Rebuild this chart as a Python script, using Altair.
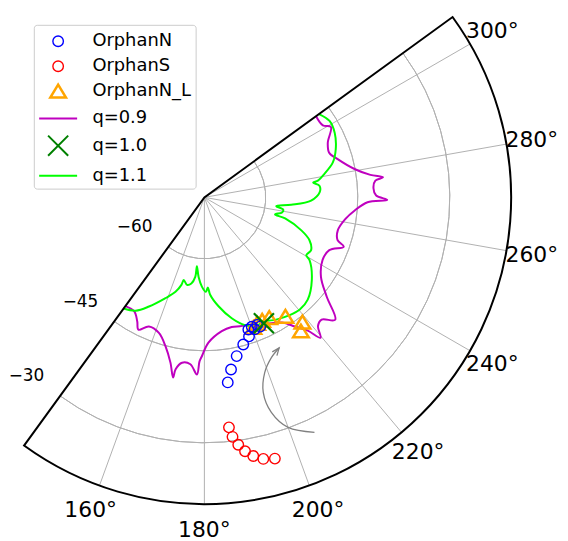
import altair as alt
import pandas as pd

# ---------------- data (RA deg, Dec deg) ----------------
SERIES = ["OrphanN", "OrphanS", "OrphanN_L", "q=0.9", "q=1.0", "q=1.1"]
COLORS = ["#0000ff", "#ff0000", "#ffa500", "#bf00bf", "#008000", "#00ff00"]

orphanN_ra = [187.2, 188.8, 191.5, 194.8, 197.8, 198.4, 200.1, 200.9, 202.5, 203.35]
orphanN_dec = [-39.6, -41.6, -43.6, -45.2, -46.2, -47.3, -47.55, -47.0, -47.5, -47.05]

orphanS_ra = [186.1, 186.7, 187.8, 189.1, 190.7, 192.7, 195.1]
orphanS_dec = [-32.3, -30.7, -29.3, -28.1, -27.1, -26.3, -25.9]

orphanNL_ra = [200.6, 202.7, 205.1, 208.3, 214.2, 218.1, 215.8]
orphanNL_dec = [-47.3, -47.7, -47.8, -47.7, -46.5, -44.1, -43.1]

q10_ra = [205.3]
q10_dec = [-47.3]

q09_ra = [144.0, 148.4, 151.6, 153.5, 156.75, 161.45, 165.4, 168.4, 170.15, 170.5,
          172.3, 175.2, 177.6, 178.3, 179.1, 181.6, 187.4, 191.9, 195.45, 197.6,
          203.0, 211.8, 215.0, 217.8, 219.6, 221.4, 223.8, 226.9, 230.9, 235.7,
          242.1, 247.1, 250.5, 252.2, 256.1, 261.1, 265.0, 268.3, 269.2, 270.6,
          273.1, 275.6, 276.4, 277.7, 280.7, 286.0, 289.7, 293.9, 299.1, 301.3, 306.0]
q09_dec = [-48.1, -48.2, -47.0, -45.9, -47.1, -46.7, -44.9, -42.5, -40.2, -41.6,
           -42.8, -42.7, -41.1, -43.25, -44.1, -46.3, -48.0, -48.4, -48.2, -48.1,
           -47.4, -46.0, -44.3, -42.5, -40.3, -42.0, -42.4, -40.8, -44.3, -47.0,
           -48.2, -47.9, -45.9, -47.2, -47.6, -46.8, -45.4, -43.4, -40.2, -42.0,
           -42.4, -42.0, -40.7, -42.7, -45.1, -47.4, -48.4, -48.0, -46.4, -47.4, -47.5]

q11_ra = [144.0, 148.8, 153.1, 158.9, 163.0, 165.3, 166.0, 168.8, 171.4, 173.5,
          173.8, 175.85, 178.4, 180.9, 182.2, 183.4, 187.4, 192.75, 197.6, 202.0,
          206.1, 210.4, 215.9, 220.4, 225.3, 232.4, 239.2, 240.4, 243.7, 247.8,
          251.2, 255.4, 256.4, 259.0, 261.2, 263.0, 265.1, 268.3, 272.5, 275.8,
          277.7, 278.4, 281.0, 285.2, 290.1, 296.3, 301.4, 306.0]
q11_dec = [-47.6, -48.4, -50.05, -52.4, -53.9, -55.25, -56.1, -55.45, -55.8, -57.0,
           -58.7, -57.0, -55.45, -54.6, -55.3, -54.1, -52.1, -49.8, -48.15, -47.45,
           -47.5, -46.9, -46.3, -46.0, -46.3, -47.9, -50.05, -50.9, -50.6, -51.5,
           -53.3, -56.4, -58.15, -57.1, -57.0, -58.2, -55.8, -52.6, -51.2, -51.15,
           -52.1, -51.3, -50.1, -48.3, -47.2, -46.3, -46.1, -46.9]

arrow_ra = [205.1, 200.0, 197.3, 196.8, 199.0, 202.7, 206.4]
arrow_dec = [-27.7, -30.1, -33.3, -36.8, -39.8, -41.7, -42.6]

ra_ticks = [160, 180, 200, 220, 240, 260, 280, 300]
dec_ticks = [-60, -45, -30]

RA_MIN, RA_MAX = 144, 306          # wedge limits
DEC_CENTER, DEC_EDGE = -70, -20    # radial limits (center, outer edge)
LABEL_DEC = -15.8                  # where the RA tick labels sit

# ---------------- layout ----------------
W, H = 556, 533
PX = 6.18                 # pixels per degree of radius
AX, AY = 197.8, 188.8     # apex position inside the plot area
R = (DEC_EDGE - DEC_CENTER) * PX
xs = alt.Scale(domain=[-AX / PX, (W - AX) / PX], nice=False, zero=False)
ys = alt.Scale(domain=[(AY - H) / PX, AY / PX], nice=False, zero=False)
rs = alt.Scale(type="linear", domain=[DEC_CENTER, DEC_EDGE], range=[0, R], zero=False)

X = alt.X("px:Q", scale=xs, axis=None)
Y = alt.Y("py:Q", scale=ys, axis=None)


def polar(ch):
    return ch.transform_calculate(
        px=f"(datum.dec - ({DEC_CENTER})) * cos((datum.ra - 270) * PI / 180)"
    ).transform_calculate(
        py=f"(datum.dec - ({DEC_CENTER})) * sin((datum.ra - 270) * PI / 180)"
    )


def seq_df(ra, dec):
    return pd.DataFrame({"ra": ra, "dec": dec, "i": list(range(len(ra)))})


# shapes (custom symbol paths), one per series
CIRCLE = "M0.47,0A0.47,0.47,0,1,1,-0.47,0A0.47,0.47,0,1,1,0.47,0Z"
TRI = "M0,-0.6L0.7,0.55L-0.7,0.55Z"
LINE = "M-1.7,0L1.7,0"
XMARK = "M-0.9,-0.9L0.9,0.9M-0.9,0.9L0.9,-0.9"
SHAPES = [CIRCLE, CIRCLE, TRI, LINE, XMARK, LINE]
CHEVRON = "M-0.4,1L0,0L0.4,1"

# ---------------- grid and frame ----------------
arc_angles = dict(ox="0", oy="0",
                  a0=f"(360 - {RA_MAX}) * PI / 180",
                  a1=f"(360 - {RA_MIN}) * PI / 180")

grid_circles = alt.Chart(pd.DataFrame({"dec": dec_ticks})).transform_calculate(
    **arc_angles
).mark_arc(filled=False, stroke="#b0b0b0", strokeWidth=1).encode(
    x=alt.X("ox:Q", scale=xs, axis=None), y=alt.Y("oy:Q", scale=ys, axis=None),
    theta=alt.Theta("a0:Q", scale=None), theta2=alt.Theta2("a1:Q"),
    radius=alt.Radius("dec:Q", scale=rs), radius2=alt.Radius2("dec:Q"),
)

frame = alt.Chart(pd.DataFrame({"r0": [DEC_CENTER], "r1": [DEC_EDGE]})).transform_calculate(
    **arc_angles
).mark_arc(filled=False, stroke="black", strokeWidth=2).encode(
    x=alt.X("ox:Q", scale=xs, axis=None), y=alt.Y("oy:Q", scale=ys, axis=None),
    theta=alt.Theta("a0:Q", scale=None), theta2=alt.Theta2("a1:Q"),
    radius=alt.Radius("r1:Q", scale=rs), radius2=alt.Radius2("r0:Q"),
)

radial_grid = alt.Chart(pd.DataFrame({"ra": ra_ticks})).transform_calculate(
    ox="0", oy="0",
    ex=f"({DEC_EDGE} - ({DEC_CENTER})) * cos((datum.ra - 270) * PI / 180)",
    ey=f"({DEC_EDGE} - ({DEC_CENTER})) * sin((datum.ra - 270) * PI / 180)",
).mark_rule(stroke="#b0b0b0", strokeWidth=1).encode(
    x=alt.X("ox:Q", scale=xs, axis=None), y=alt.Y("oy:Q", scale=ys, axis=None),
    x2="ex:Q", y2="ey:Q",
)

ra_labels = polar(alt.Chart(pd.DataFrame({"ra": ra_ticks})).transform_calculate(
    dec=str(LABEL_DEC), txt="datum.ra + '\u00b0'"
)).mark_text(font="DejaVu Sans", fontSize=22, align="center", baseline="middle",
             color="black").encode(x=X, y=Y, text="txt:N")

dec_labels = polar(alt.Chart(pd.DataFrame({"dec": dec_ticks})).transform_calculate(
    ra=str(RA_MIN), txt="'\u2212' + abs(datum.dec)"
)).mark_text(font="DejaVu Sans", fontSize=17, align="right", baseline="middle",
             dx=-16, dy=-20, color="black").encode(x=X, y=Y, text="txt:N")

# ---------------- curves ----------------
q09 = polar(alt.Chart(seq_df(q09_ra, q09_dec))).mark_line(
    color="#bf00bf", strokeWidth=2, strokeJoin="round", interpolate="catmull-rom"
).encode(x=X, y=Y, order="i:Q")
q11 = polar(alt.Chart(seq_df(q11_ra, q11_dec))).mark_line(
    color="#00ff00", strokeWidth=2, strokeJoin="round", interpolate="catmull-rom"
).encode(x=X, y=Y, order="i:Q")

arrow = polar(alt.Chart(seq_df(arrow_ra, arrow_dec))).mark_line(
    color="#808080", strokeWidth=1.3, interpolate="catmull-rom").encode(x=X, y=Y, order="i:Q")
arrow_head = polar(alt.Chart(pd.DataFrame({"ra": arrow_ra[-1:], "dec": arrow_dec[-1:]}))).mark_point(
    shape=CHEVRON, size=220, angle=38, filled=False, color="#808080", strokeWidth=1.3,
    opacity=1).encode(x=X, y=Y)

# ---------------- markers + legend ----------------
pts = pd.concat([
    pd.DataFrame({"ra": orphanN_ra, "dec": orphanN_dec, "series": "OrphanN"}),
    pd.DataFrame({"ra": orphanS_ra, "dec": orphanS_dec, "series": "OrphanS"}),
    pd.DataFrame({"ra": orphanNL_ra, "dec": orphanNL_dec, "series": "OrphanN_L"}),
    pd.DataFrame({"ra": q10_ra, "dec": q10_dec, "series": "q=1.0"}),
], ignore_index=True)

legend = alt.Legend(
    title=None, orient="none", legendX=26, legendY=15,
    symbolSize=506,
    symbolStrokeWidth=alt.ExprRef(
        "(datum.value === 'OrphanN_L' ? 2.5 : ((datum.value === 'OrphanN' || datum.value === 'OrphanS') ? 1.4 : 2))"),
    labelFont="DejaVu Sans", labelFontSize=18, labelColor="black",
    labelOffset=22, symbolOffset=8, rowPadding=3.3, padding=4,
    fillColor="rgba(255,255,255,0.8)", strokeColor="#cccccc", cornerRadius=3,
)
color = alt.Color("series:N", scale=alt.Scale(domain=SERIES, range=COLORS), legend=legend)
shape = alt.Shape("series:N", scale=alt.Scale(domain=SERIES, range=SHAPES), legend=legend)


def marker_layer(names, sw):
    cond = " || ".join(f"datum.series === '{n}'" for n in names)
    return polar(alt.Chart(pts).transform_filter(cond)).mark_point(
        filled=False, size=506, strokeWidth=sw, opacity=1
    ).encode(x=X, y=Y, color=color, shape=shape)


triangles = marker_layer(["OrphanN_L"], 2.5)
circles = marker_layer(["OrphanN", "OrphanS"], 1.4)
xmark = marker_layer(["q=1.0"], 2.2)

chart = alt.layer(
    grid_circles, radial_grid, q09, q11, arrow, arrow_head,
    triangles, circles, xmark, frame, ra_labels, dec_labels,
).properties(
    width=W, height=H, autosize=alt.AutoSizeParams(type="none"), padding=0
).configure_view(strokeWidth=0)

chart.save("out.html", embed_options={"renderer": "svg", "actions": False})
